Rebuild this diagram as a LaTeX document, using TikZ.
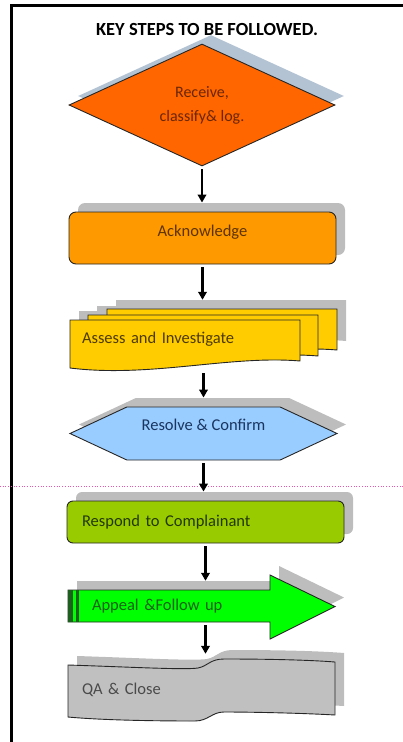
\documentclass[tikz,border=0pt]{standalone}
\usepackage{fontspec}
\setmainfont{Carlito}
\usepackage{tikz}
\usetikzlibrary{arrows.meta,positioning,shapes.geometric,shapes.symbols,shadows}

\definecolor{recvfill}{HTML}{FF6600}
\definecolor{recvtext}{HTML}{6A2600}
\definecolor{ackfill}{HTML}{FF9900}
\definecolor{acktext}{HTML}{5C3300}
\definecolor{assessfill}{HTML}{FFCC00}
\definecolor{assesstext}{HTML}{4D3A00}
\definecolor{resolvefill}{HTML}{99CCFF}
\definecolor{resolvetext}{HTML}{1A3560}
\definecolor{respondfill}{HTML}{99CC00}
\definecolor{respondtext}{HTML}{233800}
\definecolor{appealfill}{HTML}{00FF00}
\definecolor{appealtext}{HTML}{186018}
\definecolor{appealdark}{HTML}{1E5E1E}
\definecolor{closefill}{HTML}{C0C0C0}
\definecolor{closetext}{HTML}{4A4A4A}
\definecolor{shadowgray}{HTML}{BDBDBD}
\definecolor{shadowblue}{HTML}{B3C3D3}
\definecolor{guidepink}{HTML}{E855B5}

\begin{document}
\begin{tikzpicture}[x=1pt,y=-1pt,
  every node/.style={font=\fontsize{16.5}{20}\selectfont},
  stepline/.style={draw=black!85,line width=0.9pt},
  stepshadow/.style={drop shadow={shadow xshift=9pt,shadow yshift=9pt,fill=#1,opacity=1}},
  stepshadow/.default=shadowgray,
  stepflow/.style={line width=2.4pt,-{Triangle[length=8pt,width=8.5pt]},shorten <=3pt,shorten >=9pt}]
  \useasboundingbox (0,0) rectangle (403,742); % 画像全体の大きさ

  \draw[line width=3pt] (11,742) -- (11,5) -- (403,5); % 左と上の枠線
  \draw[guidepink,dotted,line width=0.7pt] (0,486) -- (403,486); % ページ境界の点線

  \node[font=\fontsize{18.5}{22}\selectfont\bfseries] (title) at (207,29) {KEY STEPS TO BE FOLLOWED.}; % 見出し

  % 受付：ひし形
  \node[diamond,aspect=2.2,stepline,fill=recvfill,stepshadow=shadowblue,
    minimum width=266pt,minimum height=122pt,inner sep=0pt,align=center,
    text=recvtext,font=\fontsize{16}{24}\selectfont] (receive) at (202,105) {Receive,\\classify\& log.};

  % 受領通知：角丸の箱
  \node[stepline,fill=ackfill,stepshadow,rounded corners=7pt,
    minimum width=267pt,minimum height=52pt] (ack) at (202.5,238) {};
  \node[text=acktext] (ack-text) at ([yshift=6pt]ack.center) {Acknowledge};

  % 調査：重なった3枚の書類（先に影だけ，次に紙を奥から）
  \foreach \dx/\dy in {37/-11,18/-5,0/0}
    \fill[shadowgray,shift={(\dx+9,\dy-9)}]
      (70,320) -- (300,320) -- (300,361) .. controls (230,355) and (150,378) .. (70,368) -- cycle;
  \foreach \dx/\dy in {37/-11,18/-5,0/0}
    \draw[stepline,fill=assessfill,shift={(\dx,\dy)}]
      (70,320) -- (300,320) -- (300,361) .. controls (230,355) and (150,378) .. (70,368) -- cycle;
  \node[minimum height=61pt,text width=243pt,inner xsep=12pt,align=left,
    text=assesstext] (assess) at (203.5,339.5) {Assess and Investigate};

  % 解決：六角形
  \node[signal,signal to=west and east,signal pointer angle=50,stepline,
    fill=resolvefill,stepshadow,minimum width=267pt,minimum height=53pt,
    inner sep=0pt] (resolve) at (203.5,433.5) {};
  \node[text=resolvetext] (resolve-text) at ([yshift=9pt]resolve.center) {Resolve \& Confirm};

  % 回答：角丸の箱
  \node[stepline,fill=respondfill,stepshadow,rounded corners=6pt,
    minimum width=277pt,minimum height=42pt,text width=247pt,inner xsep=15pt,
    align=left,text=respondtext] (respond) at (205.5,522) {Respond to Complainant};

  % 不服申立て：縞付きの右矢印
  \draw[stepline,fill=appealfill,stepshadow] (68,590) -- (270,590) -- (270,575)
    -- (335,606.5) -- (270,639) -- (270,622) -- (68,622) -- cycle;
  \fill[appealdark] (68,590) rectangle (73,622); % 太い縞
  \fill[appealdark] (76,590) rectangle (79,622); % 細い縞
  \node[minimum height=32pt,text width=219pt,inner xsep=24pt,align=left,
    text=appealtext] (appeal) at (201.5,606) {Appeal \&Follow up};

  % 完了：紙テープ形
  \draw[stepline,fill=closefill,stepshadow] (68,665)
    .. controls (130,667) and (185,670) .. (198,668)
    .. controls (208,666) and (210,659) .. (224,659)
    .. controls (270,659) and (310,660) .. (335,662) -- (335,715)
    .. controls (300,713) and (250,712) .. (224,712)
    .. controls (212,712) and (208,721) .. (195,721)
    .. controls (150,721) and (100,720) .. (68,717) -- cycle;
  \node[minimum height=54pt,text width=239pt,inner xsep=14pt,align=left,
    text=closetext] (close) at (201.5,690) {QA \& Close};

  % 手順をつなぐ矢印
  \draw[stepflow] (receive.south) -- (receive.south |- ack.north);
  \draw[stepflow] (ack.south) -- (ack.south |- assess.north);
  \draw[stepflow] (assess.south) -- (assess.south |- resolve.north);
  \draw[stepflow] (resolve.south) -- (resolve.south |- respond.north);
  \draw[stepflow] (respond.south) -- (respond.south |- appeal.north);
  \draw[stepflow] ([xshift=4pt]appeal.south) -- ([xshift=4pt]appeal.south |- close.north);
\end{tikzpicture}
\end{document}
